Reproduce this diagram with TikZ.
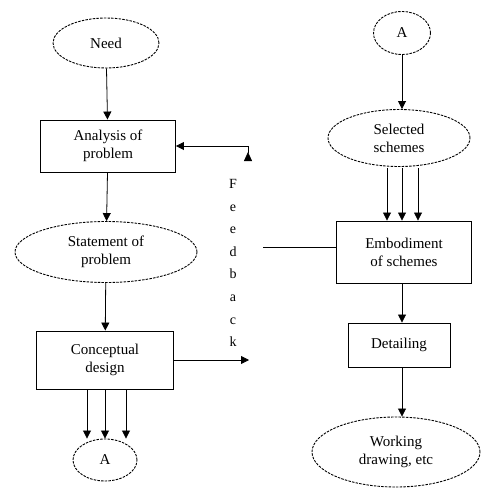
\documentclass[tikz,border=0pt]{standalone}
\usepackage{fontspec}
\setmainfont{Liberation Serif}
\usetikzlibrary{shapes.geometric}
\usetikzlibrary{arrows.meta}

\tikzset{
	flowbox/.style={draw,line width=0.9pt,align=center,inner sep=0pt},
	flowoval/.style={draw,ellipse,line width=0.9pt,dash pattern=on 2.5pt off 1.2pt,align=center,inner sep=0pt},
	arr/.style={line width=0.8pt,-{Triangle[width=8pt,length=8pt]}}
}

\begin{document}
\begin{tikzpicture}[x=1pt,y=-1pt,font=\fontsize{15}{18}\selectfont]
	\useasboundingbox (0,0) rectangle (481,490);
	
	\node[flowoval,minimum width=106pt,minimum height=50pt] (need) at (106,43) {Need};
	
	\node[flowbox,minimum width=135pt,minimum height=52pt] (analysis) at (108,146) {Analysis of\\problem};
	
	\node[flowoval,minimum width=182pt,minimum height=61pt] (statement) at (106,252) {Statement of\\problem};
	
	\node[flowbox,minimum width=137pt,minimum height=58pt] (concept) at (105,360) {Conceptual\\design};
	
	\node[flowoval,minimum width=64pt,minimum height=42pt] (aleft) at (105,460) {A};
	
	\draw[arr] (need) -- (analysis);
	\draw[arr] (analysis) -- (statement);
	\draw[arr] (statement) -- (concept);
	\foreach \dx in {-18,0,21}
		\draw[arr] ([xshift=\dx pt]concept.south) -- ([xshift=\dx pt]concept.south |- aleft.north);
	
	\node[flowoval,minimum width=57pt,minimum height=43pt] (aright) at (402,33) {A};
	
	\node[flowoval,minimum width=142pt,minimum height=57pt] (selected) at (399,138) {Selected\\schemes};
	
	\node[flowbox,minimum width=135pt,minimum height=62pt] (embody) at (404,252) {Embodiment\\of schemes};
	
	\node[flowbox,minimum width=102pt,minimum height=44pt] (detail) at (399,345) {Detailing};
	
	\node[flowoval,minimum width=168pt,minimum height=70pt] (working) at (396,452) {Working\\drawing, etc};
	
	\draw[arr] (aright.south) -- (aright.south |- selected.north);
	\foreach \dx in {-12,3,19}
		\draw[arr] ([xshift=\dx pt,yshift=-1pt]selected.south) -- ([xshift=\dx pt]selected.south |- embody.north);
	\draw[arr] ([xshift=-2pt]embody.south) -- ([xshift=-2pt]embody.south |- detail.north);
	\draw[arr] ([xshift=3pt]detail.south) -- ([xshift=3pt]detail.south |- working.north);
	
	\node[align=center,font=\fontsize{14}{22.6}\selectfont] (feedback) at (233,263) {F\\e\\e\\d\\b\\a\\c\\k};
	
	\coordinate (fbtop) at (248,161);
	\coordinate (fbout) at (249,360);
	\coordinate (fbin) at (263,247);
	
	\draw[line width=0.8pt,{Triangle[reversed,width=8pt,length=9pt]}-{Triangle[width=8pt,length=8pt]}] (fbtop) |- (analysis.east);
	\draw[arr] (concept.east) -- (fbout);
	\draw[line width=0.8pt] (embody.west |- fbin) -- (fbin);
\end{tikzpicture}
\end{document}
